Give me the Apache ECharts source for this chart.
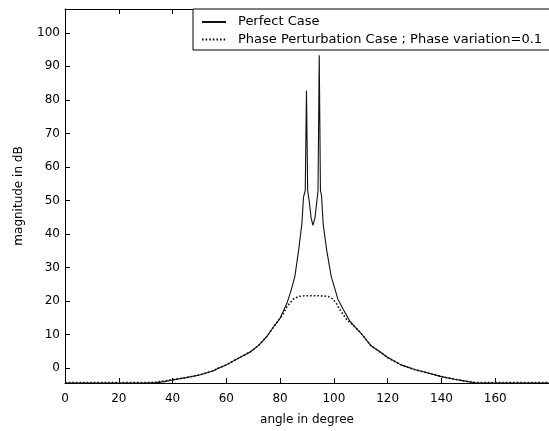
<!DOCTYPE html>
<html>
<head>
<meta charset="utf-8">
<script src="https://cdn.jsdelivr.net/npm/echarts@6/dist/echarts.min.js"></script>
<style>
html,body{margin:0;padding:0;background:#fff;}
#c{width:549px;height:431px;}
</style>
</head>
<body>
<div id="c"></div>
<script>
// ---- data ----
var perfectAngles = [0,10,20,30,34,37,40,45,50,55,57,60,65,69,72,75,78,80,82.6,84,85.5,86.9,88.1,88.7,89.35,89.8,90.25,90.8,91.5,92.2,93.0,93.7,94.1,94.55,95.0,95.4,96.0,97.3,99.0,101.5,103.5,105.8,107.4,110,113.7,118,120,125,130,135,140,145,150,153,160,170,180];
var perfectMag    = [-4.4,-4.4,-4.4,-4.4,-4.3,-4.0,-3.5,-2.8,-2.0,-0.8,0.0,1.0,3.2,4.9,6.8,9.4,12.8,14.9,19.5,23.0,27.4,35.3,43.1,51.0,53.0,82.8,53.0,50.0,45.0,42.6,45.0,50.0,53.0,93.3,53.0,51.5,43.1,35.3,27.4,20.6,17.5,14.2,12.7,10.5,6.8,4.4,3.2,1.0,-0.4,-1.4,-2.5,-3.3,-4.0,-4.4,-4.4,-4.4,-4.4];

var perturbAngles = [0,10,20,30,33,36,40,45,50,55,57,60,65,69,72,75,78,80,81.4,82.5,83.8,85.0,86.9,89,92,95,97.9,99.7,101,102.1,104.6,106,107.4,110,113.7,118,120,125,130,135,140,145,150,153,160,170,180];
var perturbMag    = [-4.3,-4.3,-4.3,-4.3,-4.2,-3.9,-3.4,-2.8,-2.0,-0.8,0.0,1.0,3.2,4.9,6.8,9.4,12.8,14.9,16.6,18.3,19.6,20.7,21.4,21.6,21.6,21.6,21.4,20.6,19.2,17.6,14.7,13.6,12.7,10.5,6.8,4.4,3.2,1.0,-0.4,-1.4,-2.5,-3.3,-4.0,-4.3,-4.3,-4.3,-4.3];

var xTickLabels = [0,20,40,60,80,100,120,140,160];
var xTicks = [0,20,40,60,80,100,120,140,160,180];
var yTicks = [0,10,20,30,40,50,60,70,80,90,100];

var seriesNames = ['Perfect Case', 'Phase Perturbation Case ; Phase variation=0.1'];

function pairs(xs, ys){ var out=[]; for(var i=0;i<xs.length;i++) out.push([xs[i], ys[i]]); return out; }

var FONT = 'DejaVu Sans';
var chart = echarts.init(document.getElementById('c'), null, {renderer:'canvas'});
chart.setOption({
  animation: false,
  backgroundColor: '#fff',
  textStyle: {fontFamily: FONT, color: '#000'},
  grid: {left: 65, top: 9, right: -7, bottom: 43, containLabel: false},
  legend: {
    data: seriesNames,
    orient: 'vertical',
    left: 193, top: 9,
    backgroundColor: '#fff',
    borderColor: '#000', borderWidth: 1, borderRadius: 0,
    padding: [5.5, 14, 3, 8],
    itemGap: 2.5,
    itemWidth: 24, itemHeight: 14,
    itemStyle: {color: 'transparent', borderColor: 'transparent', borderWidth: 0},
    textStyle: {fontFamily: FONT, fontSize: 13, lineHeight: 15, color: '#000', padding: [0,0,0,7]}
  },
  xAxis: [{
    type: 'value', min: 0, max: 180, position: 'bottom',
    name: 'angle in degree', nameLocation: 'middle', nameGap: 31,
    nameTextStyle: {fontFamily: FONT, fontSize: 12, color: '#000'},
    axisLine: {show: true, onZero: false, lineStyle: {color: '#000', width: 1}},
    axisTick: {show: true, inside: true, length: 5, customValues: xTicks, lineStyle: {color: '#000'}},
    axisLabel: {show: true, customValues: xTickLabels, margin: 10, fontFamily: FONT, fontSize: 12, color: '#000'},
    splitLine: {show: false}
  }, {
    type: 'value', min: 0, max: 180, position: 'top',
    axisLine: {show: true, onZero: false, lineStyle: {color: '#000', width: 1}},
    axisTick: {show: true, inside: true, length: 5, customValues: xTicks, lineStyle: {color: '#000'}},
    axisLabel: {show: false},
    splitLine: {show: false}
  }],
  yAxis: [{
    type: 'value', min: -4.4, max: 107.1,
    name: 'magnitude in dB', nameLocation: 'middle', nameGap: 40, nameRotate: 90,
    nameTextStyle: {fontFamily: FONT, fontSize: 12, color: '#000'},
    axisLine: {show: true, onZero: false, lineStyle: {color: '#000', width: 1}},
    axisTick: {show: true, inside: true, length: 5, customValues: yTicks, lineStyle: {color: '#000'}},
    axisLabel: {show: true, customValues: yTicks, margin: 5, fontFamily: FONT, fontSize: 12, color: '#000'},
    splitLine: {show: false}
  }],
  series: [{
    name: seriesNames[0], type: 'line', xAxisIndex: 0, yAxisIndex: 0,
    data: pairs(perfectAngles, perfectMag),
    symbol: 'none', smooth: false,
    lineStyle: {color: '#111', width: 1.1, type: 'solid'},
    itemStyle: {color: '#111'}
  }, {
    name: seriesNames[1], type: 'line', xAxisIndex: 0, yAxisIndex: 0,
    data: pairs(perturbAngles, perturbMag),
    symbol: 'none', smooth: false,
    lineStyle: {color: '#111', width: 1.6, type: [1.6, 2]},
    itemStyle: {color: '#111'}
  }]
});
</script>
</body>
</html>
